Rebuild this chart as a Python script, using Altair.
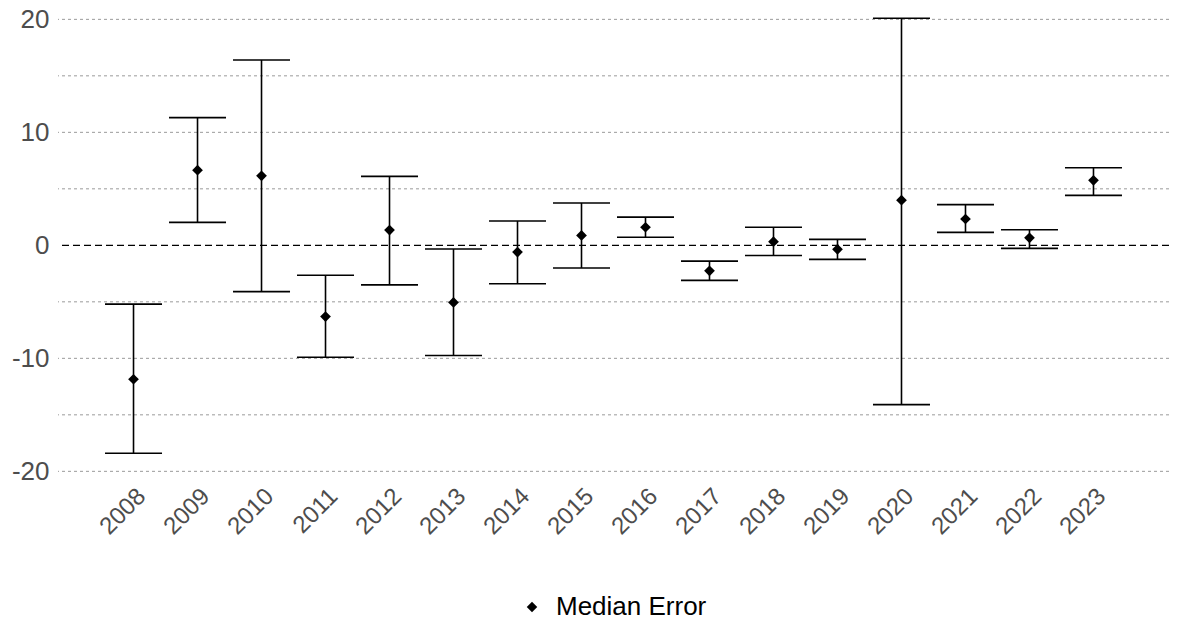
import altair as alt
import pandas as pd

years = [str(y) for y in range(2008, 2024)]
median = [-11.85, 6.65, 6.15, -6.3, 1.35, -5.05, -0.6, 0.88, 1.6, -2.25, 0.32, -0.35, 4.0, 2.33, 0.67, 5.75]
lower = [-18.4, 2.03, -4.1, -9.9, -3.5, -9.75, -3.4, -2.0, 0.72, -3.1, -0.9, -1.24, -14.1, 1.15, -0.27, 4.42]
upper = [-5.2, 11.3, 16.4, -2.65, 6.1, -0.33, 2.15, 3.75, 2.5, -1.4, 1.6, 0.53, 20.1, 3.6, 1.38, 6.87]
grid_values = [-20, -15, -10, -5, 5, 10, 15, 20]
label_values = [-20, -10, 0, 10, 20]

df = pd.DataFrame({"year": years, "median": median, "lower": lower, "upper": upper,
                   "series": ["Median Error"] * len(years)})
grid_df = pd.DataFrame({"g": grid_values})
zero_df = pd.DataFrame({"z": [0]})

FONT = "Liberation Sans"
W, H = 1111, 466
ydom = [-20.59, 20.65]

xscale = alt.Scale(type="band", paddingInner=0, paddingOuter=0.68, domain=years)
yscale = alt.Scale(domain=ydom, nice=False, zero=False)

yaxis = alt.Axis(values=label_values, grid=False, domain=False, ticks=False,
                 labelFontSize=26, labelColor="#4d4d4d", labelFont=FONT,
                 labelPadding=9, title=None, labelExpr="'' + datum.value")
xaxis = alt.Axis(labelAngle=-45, labelAlign="right", labelBaseline="top",
                 labelFontSize=24, labelColor="#4d4d4d", labelFont=FONT,
                 domain=False, ticks=False, labelPadding=6, title=None)

grid = alt.Chart(grid_df).mark_rule(color="#9a9a9a", strokeWidth=1, strokeDash=[3, 3]).encode(
    y=alt.Y("g:Q", scale=yscale, axis=yaxis)
)
zero = alt.Chart(zero_df).mark_rule(color="black", strokeWidth=1.3, strokeDash=[7, 4]).encode(
    y=alt.Y("z:Q", scale=yscale)
)
base = alt.Chart(df)
vlines = base.mark_rule(color="black", strokeWidth=1.6).encode(
    x=alt.X("year:N", scale=xscale, axis=xaxis, sort=years),
    y=alt.Y("lower:Q", scale=yscale),
    y2="upper:Q",
)
caps_hi = base.mark_tick(color="black", size=57, thickness=1.6, opacity=1).encode(
    x=alt.X("year:N", scale=xscale, sort=years),
    y=alt.Y("upper:Q", scale=yscale),
)
caps_lo = base.mark_tick(color="black", size=57, thickness=1.6, opacity=1).encode(
    x=alt.X("year:N", scale=xscale, sort=years),
    y=alt.Y("lower:Q", scale=yscale),
)
points = base.mark_point(filled=True, size=115, opacity=1, color="black").encode(
    x=alt.X("year:N", scale=xscale, sort=years),
    y=alt.Y("median:Q", scale=yscale),
    shape=alt.Shape("series:N", scale=alt.Scale(range=["diamond"]),
                    legend=alt.Legend(title=None, orient="none", legendX=461, legendY=582,
                                      labelFontSize=26, labelColor="black", labelFont=FONT,
                                      symbolSize=110, symbolFillColor="black",
                                      symbolStrokeColor="black", symbolType="diamond",
                                      labelOffset=11)),
)

chart = alt.layer(grid, zero, vlines, caps_hi, caps_lo, points).properties(
    width=W, height=H,
    autosize=alt.AutoSizeParams(type="none"),
    padding={"left": 50, "top": 4, "right": 0, "bottom": 142},
).configure(background="white").configure_view(stroke=None)

chart.save("out.html", embed_options={"renderer": "svg", "actions": False})
